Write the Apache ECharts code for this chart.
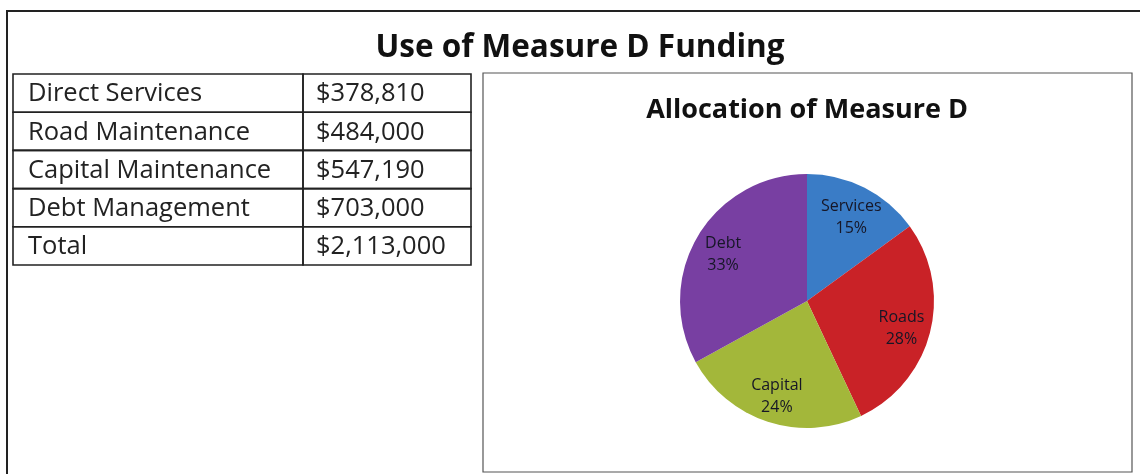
<!DOCTYPE html>
<html>
<head>
<meta charset="utf-8">
<script src="https://cdn.jsdelivr.net/npm/echarts@6/dist/echarts.min.js"></script>
<style>
  html, body { margin: 0; padding: 0; background: #fff; }
  #main { width: 1140px; height: 474px; }
</style>
</head>
<body>
<div id="main"></div>
<script>
// Funding table
const lineItems = ['Direct Services', 'Road Maintenance', 'Capital Maintenance', 'Debt Management', 'Total'];
const amounts = ['$378,810', '$484,000', '$547,190', '$703,000', '$2,113,000'];

// Pie slices as printed on the chart
const sliceNames = ['Services', 'Roads', 'Capital', 'Debt'];
const slicePercents = [15, 28, 24, 33];
const sliceColors = ['#3a7cc6', '#c92227', '#a3b73a', '#783fa2'];

const FONT = '"Open Sans", Lato, sans-serif';

const chart = echarts.init(document.getElementById('main'), null, { renderer: 'canvas' });

// table geometry
const tLeft = 13, tRight = 471, tTop = 74, rowH = 38.2, colX = 303;
const tableGraphics = [];
lineItems.forEach((name, i) => {
  const y = tTop + i * rowH;
  tableGraphics.push({
    type: 'rect', shape: { x: tLeft, y: y, width: colX - tLeft, height: rowH },
    style: { fill: 'none', stroke: '#222', lineWidth: 1.6 }
  });
  tableGraphics.push({
    type: 'rect', shape: { x: colX, y: y, width: tRight - colX, height: rowH },
    style: { fill: 'none', stroke: '#222', lineWidth: 1.6 }
  });
  tableGraphics.push({
    type: 'text', x: 28, y: y + rowH / 2 + 1,
    style: { text: name, font: '25.5px ' + FONT, fill: '#222', textVerticalAlign: 'middle' }
  });
  tableGraphics.push({
    type: 'text', x: 316, y: y + rowH / 2 + 1,
    style: { text: amounts[i], font: '25.5px ' + FONT, fill: '#222', textVerticalAlign: 'middle' }
  });
});

const pieData = sliceNames.map((n, i) => ({ name: n, value: slicePercents[i], itemStyle: { color: sliceColors[i] } }));

chart.setOption({
  animation: false,
  title: [
    { text: 'Use of Measure D Funding', left: 575, top: 27, textAlign: 'center',
      textStyle: { fontFamily: FONT, fontWeight: 'bold', fontSize: 31.5, color: '#111' } },
    { text: 'Allocation of Measure D', left: 802, top: 92, textAlign: 'center',
      textStyle: { fontFamily: FONT, fontWeight: 'bold', fontSize: 27, color: '#111' } }
  ],
  graphic: [
    { type: 'rect', shape: { x: 7, y: 11, width: 1150, height: 480 },
      style: { fill: 'none', stroke: '#222', lineWidth: 2 } },
    { type: 'rect', shape: { x: 483, y: 73, width: 649, height: 399 },
      style: { fill: 'none', stroke: '#555', lineWidth: 1.2 } }
  ].concat(tableGraphics),
  series: [
    {
      type: 'pie', center: [807, 301], radius: [0, 127], startAngle: 90, clockwise: true,
      silent: true, label: { show: false }, labelLine: { show: false },
      data: pieData
    },
    {
      // transparent ring that carries the labels further out in each slice
      type: 'pie', center: [807, 304], radius: [62, 127], startAngle: 90, clockwise: true,
      silent: true,
      itemStyle: { color: 'rgba(0,0,0,0)' },
      label: {
        show: true, position: 'inside', formatter: p => p.name + '\n' + p.value + '%',
        fontFamily: FONT, fontSize: 16, color: '#161626', lineHeight: 22
      },
      labelLine: { show: false },
      data: sliceNames.map((n, i) => ({ name: n, value: slicePercents[i] }))
    }
  ]
});
</script>
</body>
</html>
